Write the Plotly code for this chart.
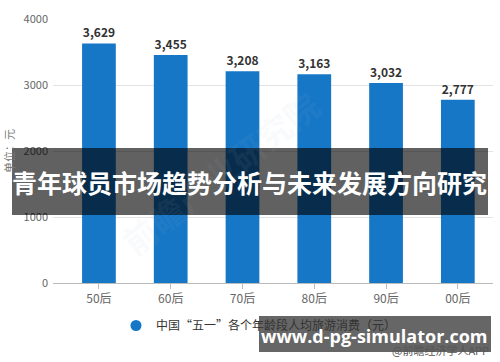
import plotly.graph_objects as go

categories = ["50后", "60后", "70后", "80后", "90后", "00后"]
values = [3629, 3455, 3208, 3163, 3032, 2777]
value_labels = ["3,629", "3,455", "3,208", "3,163", "3,032", "2,777"]
y_ticks = [0, 1000, 2000, 3000, 4000]
series_name = "中国“五一”各个年龄段人均旅游消费（元）"
y_title = "单位：元"
banner_title = "青年球员市场趋势分析与未来发展方向研究"
site_text = "www.d-pg-simulator.com"
source_text = "@前瞻经济学人APP"

FONT = "Noto Sans CJK SC"
BAR_COLOR = "#1777c7"

fig = go.Figure()
fig.add_trace(go.Bar(
    x=categories, y=values, name=series_name, showlegend=False,
    marker=dict(color=BAR_COLOR, line=dict(width=0)),
    text=value_labels, textposition="outside", cliponaxis=False,
    textfont=dict(family=FONT, size=12, color="#333333", weight="bold"),
    width=0.47,
))
# legend entry with a round marker
fig.add_trace(go.Scatter(
    x=[None], y=[None], mode="markers", name=series_name,
    marker=dict(symbol="circle", size=11, color=BAR_COLOR),
))

fig.update_layout(
    width=500, height=362,
    margin=dict(l=53, r=7, t=19, b=79, autoexpand=False),
    paper_bgcolor="white", plot_bgcolor="white",
    font=dict(family=FONT, color="#666666"),
    showlegend=True,
    legend=dict(orientation="h", x=(116-53)/440, y=(283-311)/264, xanchor="left", yanchor="top",
                font=dict(size=12, color="#333333", family=FONT),
                itemwidth=30, bgcolor="rgba(0,0,0,0)"),
    bargap=0.53,
)
fig.update_xaxes(
    range=[-0.64, 5.49], showgrid=False,
    showline=True, linecolor="#bbbbbb", linewidth=1,
    ticks="outside", ticklen=5, tickcolor="#bbbbbb",
    tickfont=dict(size=12, color="#666666", family=FONT),
)
fig.update_yaxes(
    range=[0, 4000], tickvals=y_ticks, ticktext=[str(v) for v in y_ticks],
    showgrid=True, gridcolor="#e3e3e3", gridwidth=1, zeroline=False,
    showline=False, ticks="", ticklabelstandoff=4,
    tickfont=dict(size=11, color="#666666", family=FONT),
    title=dict(text=y_title, font=dict(size=11, color="#777777", family=FONT), standoff=6),
)

# faint diagonal watermark
fig.add_annotation(
    xref="paper", yref="paper", x=0.38, y=0.78, text="前瞻产业研究院",
    showarrow=False, textangle=-38,
    font=dict(size=34, color="rgba(170,190,210,0.08)", family=FONT, weight="bold"),
)

# title banner
fig.add_shape(type="rect", xref="paper", yref="paper",
              x0=(12-53)/440, x1=(488-53)/440, y0=(283-215)/264, y1=(283-148)/264,
              fillcolor="rgba(0,0,0,0.62)", line=dict(width=0), layer="above")
fig.add_annotation(
    xref="paper", yref="paper", x=(249-53)/440, y=(283-182)/264, text=banner_title,
    showarrow=False, xanchor="center", yanchor="middle",
    font=dict(size=25, color="white", family=FONT, weight="bold"),
)

# source text + site box
fig.add_annotation(
    xref="paper", yref="paper", x=(491-53)/440, y=(283-350)/264, text=source_text,
    showarrow=False, xanchor="right", yanchor="middle",
    font=dict(size=11, color="#555555", family=FONT),
)
fig.add_shape(type="rect", xref="paper", yref="paper",
              x0=(259-53)/440, x1=(491-53)/440, y0=(283-352)/264, y1=(283-316)/264,
              fillcolor="rgba(0,0,0,0.6)", line=dict(width=0), layer="above")
fig.add_annotation(
    xref="paper", yref="paper", x=(374-53)/440, y=(283-336)/264, text=site_text,
    showarrow=False, xanchor="center", yanchor="middle",
    font=dict(size=18, color="white", family="Open Sans", weight="bold"),
)

fig.write_html("out.html", config={"displayModeBar": False},
               post_script="document.body.style.margin='0';document.body.style.padding='0';")
